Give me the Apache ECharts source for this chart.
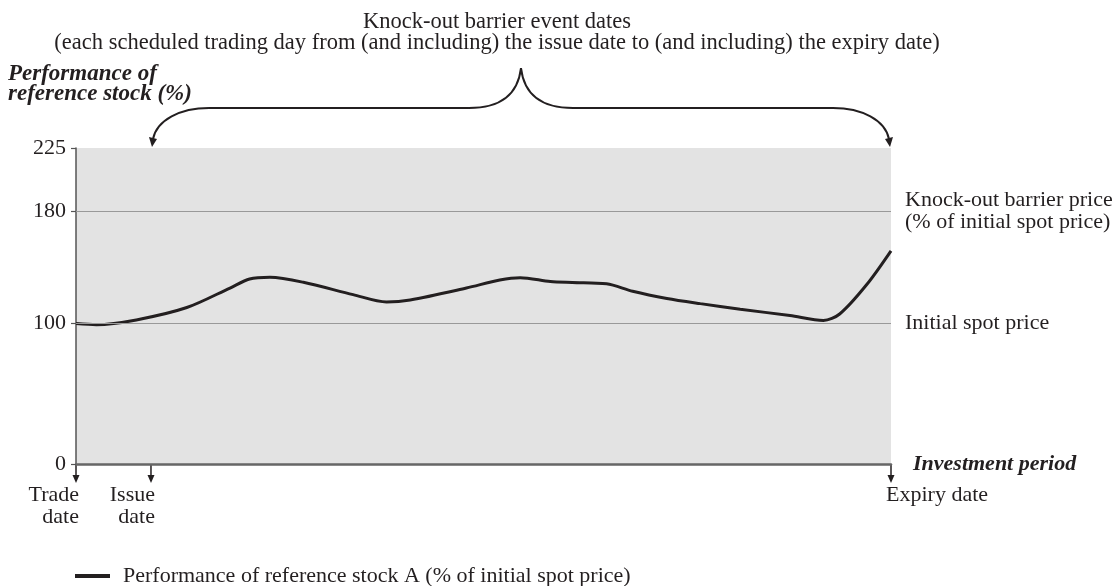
<!DOCTYPE html>
<html><head><meta charset="utf-8">
<script src="https://cdn.jsdelivr.net/npm/echarts@6/dist/echarts.min.js"></script>
<style>html,body{margin:0;padding:0;background:#fff}#c{width:1119px;height:586px}</style>
</head><body><div id="c"></div>
<script>
// ---- data ----
const periodX = [0, 2.5, 7.4, 13.6, 18.9, 21.3, 23.8, 27.9, 34.0, 38.1, 41.0, 47.9, 52.0, 54.5, 58.2, 60.9, 65.1, 68.3, 72.5, 76.6, 81.5, 87.6, 91.7, 93.7, 97.0, 100];
const stockA  = [100, 99.2, 102.6, 111.4, 125.3, 131.7, 132.9, 129.4, 120.6, 115.4, 116.8, 125.3, 131.0, 132.7, 129.9, 129.2, 128.3, 123.0, 117.9, 114.2, 110.2, 105.7, 102.2, 106.8, 127.6, 151.8];
const yTicks = [0, 100, 180, 225];
const refLevels = [180, 100];
const refLabels = ['Knock-out barrier price\n(% of initial spot price)', 'Initial spot price'];
const eventPos = [0, 9.2, 100];
const eventLabels = ['Trade\ndate', 'Issue\ndate', 'Expiry date'];
const titleLines = ['Knock-out barrier event dates', '(each scheduled trading day from (and including) the issue date to (and including) the expiry date)'];
const yName = 'Performance of\nreference stock (%)';
const xName = 'Investment period';
const seriesName = 'Performance of reference stock A (% of initial spot price)';

const FONT = '"Liberation Serif", "Times New Roman", serif';
const INK = '#231f20';

const chart = echarts.init(document.getElementById('c'), null, {renderer: 'canvas'});
chart.setOption({
  animation: false,
  textStyle: {fontFamily: FONT},
  grid: {left: 76, right: 228, top: 148, bottom: 122, show: true, backgroundColor: '#e3e3e3', borderWidth: 0},
  xAxis: {
    type: 'value', min: 0, max: 100,
    name: xName, nameLocation: 'end', nameGap: 22,
    nameTextStyle: {fontFamily: FONT, fontSize: 22, fontWeight: 'bold', fontStyle: 'italic', color: INK, verticalAlign: 'middle', align: 'left'},
    axisLine: {lineStyle: {color: '#666', width: 2.5}},
    axisTick: {show: false}, axisLabel: {show: false}, splitLine: {show: false}
  },
  yAxis: {
    type: 'value', min: 0, max: 225,
    axisLine: {show: true, lineStyle: {color: '#555', width: 1.5}},
    axisTick: {show: true, length: 5, customValues: yTicks, lineStyle: {color: '#555', width: 1.2}},
    axisLabel: {customValues: yTicks, fontSize: 22, color: INK, margin: 10, fontFamily: FONT},
    splitLine: {show: false}
  },
  legend: {
    left: 70, top: 560, icon: 'rect', itemWidth: 35, itemHeight: 4,
    textStyle: {fontFamily: FONT, fontSize: 22, color: INK, padding: [0, 0, 0, 8]},
    data: [seriesName]
  },
  series: [{
    type: 'line', name: seriesName,
    data: periodX.map((x, i) => [x, stockA[i]]),
    smooth: 0.3, symbol: 'none',
    lineStyle: {color: INK, width: 3}, itemStyle: {color: INK},
    markLine: {
      silent: true, symbol: 'none',
      lineStyle: {color: '#999', width: 1.2, type: 'solid'},
      label: {position: 'end', distance: 14, fontFamily: FONT, fontSize: 22, color: INK, lineHeight: 22, align: 'left'},
      data: refLevels.map((v, i) => ({yAxis: v, label: {formatter: refLabels[i]}}))
    }
  }]
});

function px(x, y) { return chart.convertToPixel({gridIndex: 0}, [x, y]); }
const yBottom = px(0, 0)[1];
const yTop = px(0, 225)[1];
const elems = [];
const font22 = '22px ' + FONT;

// event date arrows and labels
eventPos.forEach((p, i) => {
  const x = px(p, 0)[0];
  elems.push({type: 'line', shape: {x1: x, y1: yBottom + 1, x2: x, y2: yBottom + 13}, style: {stroke: INK, lineWidth: 1.5}});
  elems.push({type: 'polygon', shape: {points: [[x - 3.5, yBottom + 11], [x + 3.5, yBottom + 11], [x, yBottom + 19]]}, style: {fill: INK}});
  const last = i === eventPos.length - 1;
  elems.push({type: 'text', x: last ? x - 5 : x + (i === 0 ? 3 : 4), y: yBottom + 20,
    style: {text: eventLabels[i], font: font22, fill: INK, align: last ? 'left' : 'right', verticalAlign: 'top', lineHeight: 22}});
});

// curly brace over issue date .. expiry date
const xs = px(eventPos[1], 0)[0], xe = px(eventPos[2], 0)[0], xm = (xs + xe) / 2;
const yH = 108, yPk = 68, yTip = yTop - 2;
const bs = {stroke: INK, lineWidth: 2, fill: null};
elems.push({type: 'bezierCurve', shape: {x1: xs + 58, y1: yH, cpx1: xs + 29, cpy1: yH, cpx2: xs + 6, cpy2: yH + 12, x2: xs + 2, y2: yTip - 7}, style: bs});
elems.push({type: 'line', shape: {x1: xs + 58, y1: yH, x2: xm - 52, y2: yH}, style: bs});
elems.push({type: 'bezierCurve', shape: {x1: xm - 52, y1: yH, cpx1: xm - 20, cpy1: yH, cpx2: xm - 3, cpy2: yH - 14, x2: xm, y2: yPk}, style: bs});
elems.push({type: 'bezierCurve', shape: {x1: xm + 52, y1: yH, cpx1: xm + 20, cpy1: yH, cpx2: xm + 3, cpy2: yH - 14, x2: xm, y2: yPk}, style: bs});
elems.push({type: 'line', shape: {x1: xm + 52, y1: yH, x2: xe - 58, y2: yH}, style: bs});
elems.push({type: 'bezierCurve', shape: {x1: xe - 58, y1: yH, cpx1: xe - 29, cpy1: yH, cpx2: xe - 6, cpy2: yH + 12, x2: xe - 2, y2: yTip - 7}, style: bs});
elems.push({type: 'polygon', shape: {points: [[xs - 2, yTip - 9], [xs + 6, yTip - 7], [xs + 1, yTip + 1]]}, style: {fill: INK}});
elems.push({type: 'polygon', shape: {points: [[xe + 2, yTip - 9], [xe - 6, yTip - 7], [xe - 1, yTip + 1]]}, style: {fill: INK}});

// titles
elems.push({type: 'text', x: 497, y: 22, style: {text: titleLines[0], font: '22.5px ' + FONT, fill: INK, align: 'center', verticalAlign: 'middle'}});
elems.push({type: 'text', x: 497, y: 43, style: {text: titleLines[1], font: '22.5px ' + FONT, fill: INK, align: 'center', verticalAlign: 'middle'}});
elems.push({type: 'text', x: 8, y: 64, style: {text: yName, font: 'italic bold 23px ' + FONT, fill: INK, align: 'left', verticalAlign: 'top', lineHeight: 20}});

chart.setOption({graphic: {elements: elems}});
</script></body></html>
